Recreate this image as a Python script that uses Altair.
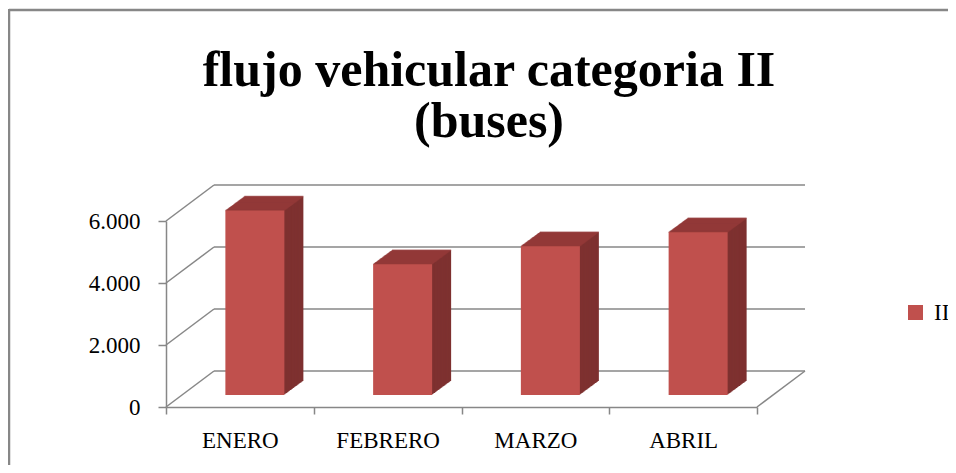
import altair as alt
import pandas as pd

meses = ["ENERO", "FEBRERO", "MARZO", "ABRIL"]
valores = [5950, 4220, 4800, 5250]
serie = "II"
ticks_y = [0, 2000, 4000, 6000]
titulo = ["flujo vehicular categoria II", "(buses)"]

W, H = 591, 186
DX, DY = 48, -36          # depth of the back wall (px)
BX, BY = 15, -12          # position of the bars inside the depth
BDX, BDY = 19, -14        # depth of each bar
BAR_W = 59

FRONT = "#C0504D"
SIDE = "#7E3130"
TOP = "#953B39"
GRID = "#878787"
FONT = "Liberation Serif"

df = pd.DataFrame({"mes": meses, "valor": valores, "serie": [serie] * len(meses)})
grid = pd.DataFrame({"v": ticks_y})

xenc = alt.X(
    "mes:N", sort=meses, title=None,
    scale=alt.Scale(paddingInner=0, paddingOuter=0),
    axis=alt.Axis(labelAngle=0, tickBand="extent", domainColor=GRID, domainWidth=1.5,
                  tickColor=GRID, tickWidth=1.5, tickSize=7, labelPadding=15,
                  labelFont=FONT, labelFontSize=23, labelColor="black"),
)
yscale = alt.Scale(domain=[0, 6000], nice=False, zero=True)
yaxis = alt.Axis(values=ticks_y, grid=False, title=None, domainColor=GRID, domainWidth=1.5,
                 tickColor=GRID, tickWidth=1.5, tickSize=8, labelPadding=18,
                 labelFont=FONT, labelFontSize=23, labelColor="black",
                 labelExpr="replace(format(datum.value, ',d'), ',', '.')")

base = alt.Chart(df)
gbase = alt.Chart(grid)
one = gbase.transform_filter("datum.v == 0")

frame_top = one.mark_rule(color=GRID, strokeWidth=2.5).encode(
    x=alt.value(-157), x2=alt.value(900), y=alt.value(-211)
)
frame_left = one.mark_rule(color=GRID, strokeWidth=2.5).encode(
    x=alt.value(-157), y=alt.value(-212), y2=alt.value(400)
)

back_grid = gbase.mark_rule(color=GRID, strokeWidth=1.5, xOffset=DX, x2Offset=DX, yOffset=DY).encode(
    x=alt.value(0), x2=alt.value(W), y=alt.Y("v:Q", scale=yscale, axis=yaxis)
)
left_wall = gbase.mark_rule(color=GRID, strokeWidth=1.5, y2Offset=DY).encode(
    x=alt.value(0), x2=alt.value(DX), y=alt.Y("v:Q", scale=yscale, axis=yaxis), y2="v:Q"
)
floor_right = one.mark_rule(color=GRID, strokeWidth=1.5, y2Offset=DY).encode(
    x=alt.value(W), x2=alt.value(W + DX), y=alt.Y("v:Q", scale=yscale, axis=yaxis), y2="v:Q"
)

layers = [frame_top, frame_left, back_grid, left_wall, floor_right]

steps = 20
for i in range(steps, 0, -1):
    f = i / steps
    layers.append(
        base.mark_bar(size=BAR_W, color=SIDE, xOffset=BX + BDX * f, yOffset=BY + BDY * f).encode(
            x=xenc, y=alt.Y("valor:Q", scale=yscale, axis=yaxis)
        )
    )
for i in range(steps, -1, -1):
    f = i / steps
    layers.append(
        base.mark_tick(size=BAR_W, thickness=1.4, color=TOP, orient="horizontal",
                       xOffset=BX + BDX * f, yOffset=BY + BDY * f).encode(
            x=xenc, y=alt.Y("valor:Q", scale=yscale, axis=yaxis)
        )
    )

front = base.mark_bar(size=BAR_W, xOffset=BX, yOffset=BY).encode(
    x=xenc,
    y=alt.Y("valor:Q", scale=yscale, axis=yaxis),
    color=alt.Color("serie:N", scale=alt.Scale(range=[FRONT]),
                    legend=alt.Legend(title=None, orient="none", legendX=738, legendY=80,
                                      symbolType="square", symbolSize=225, symbolStrokeWidth=0,
                                      labelFont=FONT, labelFontSize=23, labelColor="black",
                                      labelOffset=7, padding=0)),
)
layers.append(front)

title = one.mark_text(
    text=titulo, font=FONT, fontSize=50, fontWeight="bold", color="black",
    align="center", baseline="alphabetic", lineHeight=51,
).encode(x=alt.value(323), y=alt.value(-135))
layers.append(title)

chart = alt.layer(*layers).properties(
    width=W, height=H,
    autosize=alt.AutoSizeParams(type="none"),
    padding={"left": 158, "top": 213, "right": 191, "bottom": 58},
).configure_view(stroke=None)

chart.save("out.html", embed_options={"renderer": "svg", "actions": False})
